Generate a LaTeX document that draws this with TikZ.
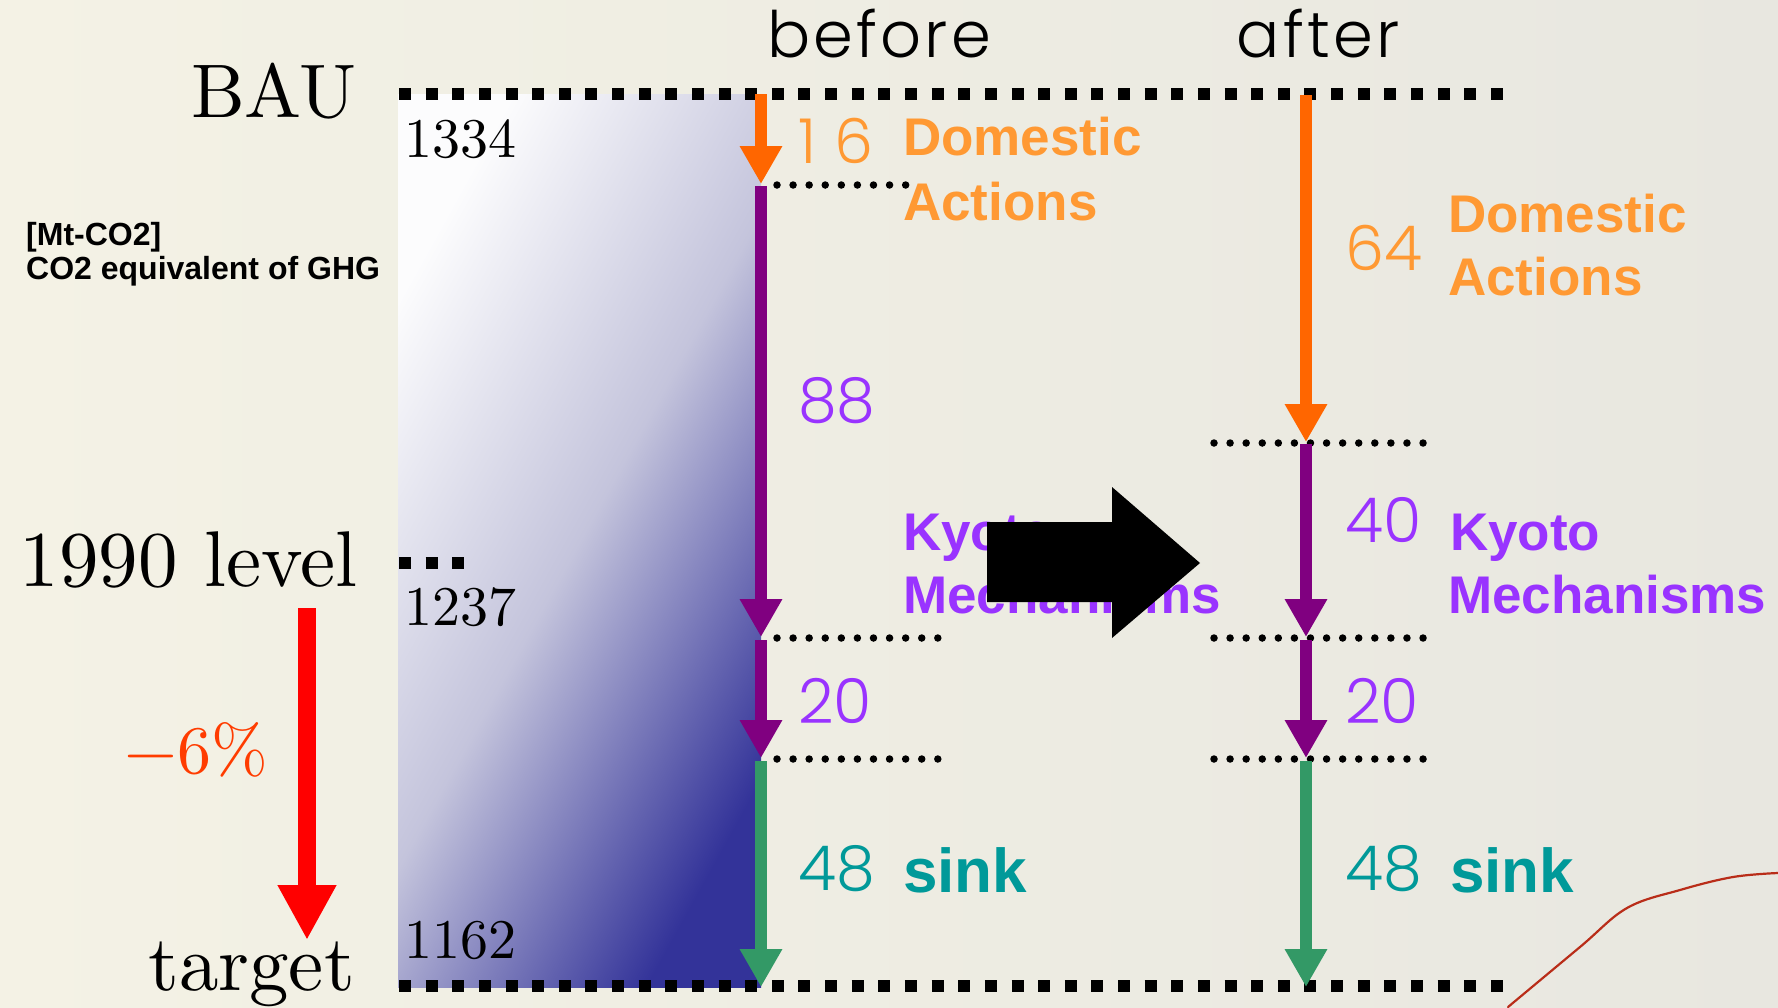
\documentclass[tikz,border=0pt]{standalone}
\usepackage{fontspec}
\usetikzlibrary{arrows.meta}
\newfontfamily\cmten{lmroman10-regular.otf}
\newfontfamily\labelfont{Liberation Sans}
\newfontfamily\thinfont{Poppins Light}
\newfontfamily\thinwide{Poppins Light}[LetterSpace=5]
\newcommand\setsz[1]{\fontsize{#1}{#1}\selectfont}

\definecolor{paperL}{RGB}{244,242,229}
\definecolor{paperR}{RGB}{232,231,224}
\definecolor{domC}{RGB}{255,102,0}
\definecolor{domT}{RGB}{255,153,51}
\definecolor{kyoC}{RGB}{128,0,128}
\definecolor{kyoT}{RGB}{153,51,255}
\definecolor{sinkC}{RGB}{51,153,102}
\definecolor{sinkT}{RGB}{0,153,153}
\definecolor{barLo}{RGB}{252,252,253}
\definecolor{barMid}{RGB}{196,196,220}
\definecolor{barHi}{RGB}{51,51,153}
\definecolor{cutRed}{RGB}{255,60,0}
\definecolor{stem}{RGB}{185,45,25}

\tikzset{
  sqline/.style={line width=12pt, dash pattern=on 12pt off 14.63pt},
  dotline/.style={line width=7.5pt, line cap=round, dash pattern=on 0pt off 16.08pt},
  flow/.style={line width=12.6pt, -{Triangle[width=40pt,length=38pt]}},
  lbl/.style={inner sep=0pt, anchor=base west},
  rmtxt/.style={inner sep=0pt, font=\cmten},
  num/.style={lbl, font=\thinfont\setsz{62}},
  bigl/.style={lbl, font=\labelfont\bfseries\setsz{53}},
}

\begin{document}
\begin{tikzpicture}[x=1pt, y=-1pt]
\useasboundingbox (0,0) rectangle (1778,1007);
% paper background
\shade[left color=paperL, right color=paperR] (0,0) rectangle (1778,1007);
% faint stem in the paper
\draw[stem, line width=2.2pt, line cap=round] plot[smooth, tension=0.6] coordinates
  {(1508,1007) (1580,947) (1627,908) (1680,890) (1733,877) (1778,873)};

% emission bar: light at the top left, deep blue at the bottom right
\shade[left color=barLo, right color=barHi, middle color=barMid, shading angle=61]
  (398,94) rectangle (761,987);

% levels
\draw[sqline] (399,94) -- (1503,94);
\draw[sqline] (399,986) -- (1503,986);
\draw[sqline] (399,563) -- (466,563);

\draw[dotline] (777,185) -- (906,185);
\draw[dotline] (777,638) -- (938,638);
\draw[dotline] (777,759) -- (938,759);
\draw[dotline] (1214,443) -- (1424,443);
\draw[dotline] (1214,638) -- (1424,638);
\draw[dotline] (1214,759) -- (1424,759);

% reduction steps, before
\coordinate (b0) at (761,94);
\coordinate (b1) at (761,184);
\coordinate (b2s) at (761,186);
\coordinate (b2) at (761,637);
\coordinate (b3s) at (761,640);
\coordinate (b3) at (761,758);
\coordinate (b4s) at (761,761);
\coordinate (b4) at (761,987);
\draw[flow, domC] (b0) -- (b1);
\draw[flow, kyoC] (b2s) -- (b2);
\draw[flow, kyoC] (b3s) -- (b3);
\draw[flow, sinkC] (b4s) -- (b4);

% reduction steps, after
\coordinate (a0) at (1306,95);
\coordinate (a1) at (1306,442);
\coordinate (a2s) at (1306,444);
\coordinate (a2) at (1306,637);
\coordinate (a3s) at (1306,640);
\coordinate (a3) at (1306,758);
\coordinate (a4s) at (1306,761);
\coordinate (a4) at (1306,987);
\draw[flow, domC] (a0) -- (a1);
\draw[flow, kyoC] (a2s) -- (a2);
\draw[flow, kyoC] (a3s) -- (a3);
\draw[flow, sinkC] (a4s) -- (a4);

% left side labels
\node[rmtxt, anchor=base east, font=\cmten\setsz{76}] (bau) at (357,117) {BAU};
\node[rmtxt, anchor=base east, font=\cmten\setsz{79}] (lvl) at (358,586) {1990 level};
\node[rmtxt, anchor=base east, font=\cmten\setsz{79}] (tgt) at (355,990) {target};
\node[lbl, font=\labelfont\bfseries\setsz{32}] (unitA) at (26,245) {[Mt-CO2]};
\node[lbl, font=\labelfont\bfseries\setsz{32}] (unitB) at (26,279) {CO2 equivalent of GHG};
\node[rmtxt, anchor=base east, font=\cmten\setsz{68}, text=cutRed] (cut) at (268,773) {\symbol{"2212}6\%};
\coordinate (cutTop) at (307,608);
\coordinate (cutEnd) at (307,940);
\draw[line width=18pt, red, -{Triangle[width=55pt,length=55pt]}] (cutTop) -- (cutEnd);

\node[lbl, font=\cmten\setsz{56}] (vA) at (404,157) {1334};
\node[lbl, font=\cmten\setsz{56}] (vB) at (404,625) {1237};
\node[lbl, font=\cmten\setsz{56}] (vC) at (404,958) {1162};

% column heads
\node[inner sep=0pt, anchor=base, font=\thinwide\setsz{64}] (before) at (879,57) {before};
\node[inner sep=0pt, anchor=base, font=\thinwide\setsz{64}] (after) at (1318,57) {after};

% amounts
\node[num, text=domT] (n16) at (798,163) {1\kern18pt 6};
\node[num, text=kyoT] (n88) at (798,422) {88};
\node[num, text=kyoT] (n20b) at (798,723) {20};
\node[num, text=sinkT] (n48b) at (798,890) {48};
\node[num, text=domT] (n64) at (1345,270) {64};
\node[num, text=kyoT] (n40) at (1345,542) {40};
\node[num, text=kyoT] (n20a) at (1345,723) {20};
\node[num, text=sinkT] (n48a) at (1345,890) {48};

% measure names
\node[bigl, text=domT] (domB1) at (903,155) {Domestic};
\node[bigl, text=domT] (domB2) at (903,220) {Actions};
\node[bigl, text=kyoT] (kyoB1) at (903,550) {Kyoto};
\node[bigl, text=kyoT] (kyoB2) at (903,613) {Mechanisms};
\node[lbl, font=\labelfont\bfseries\setsz{62}, text=sinkT] (sinkB) at (903,892) {sink};
\node[bigl, text=domT] (domA1) at (1448,232) {Domestic};
\node[bigl, text=domT] (domA2) at (1448,295) {Actions};
\node[bigl, text=kyoT] (kyoA1) at (1450,550) {Kyoto};
\node[bigl, text=kyoT] (kyoA2) at (1448,613) {Mechanisms};
\node[lbl, font=\labelfont\bfseries\setsz{62}, text=sinkT] (sinkA) at (1450,892) {sink};

% transition arrow
\fill (987,522) -- (1112,522) -- (1112,487) -- (1200,563) -- (1112,638)
  -- (1112,602) -- (987,602) -- cycle;
\end{tikzpicture}
\end{document}
